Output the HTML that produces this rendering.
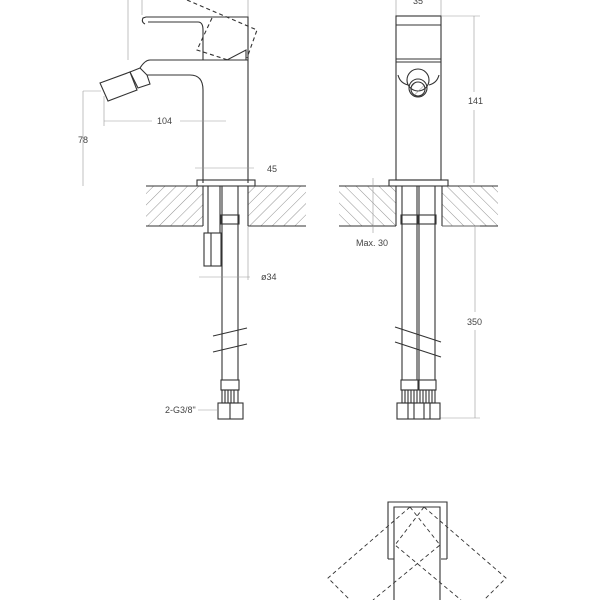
<!DOCTYPE html>
<html><head><style>body{margin:0;background:#fff}svg{display:block}text{font-family:"Liberation Sans",sans-serif;font-size:9px;fill:#444;stroke:none}</style></head><body>
<svg width="600" height="600" viewBox="0 0 600 600" xmlns="http://www.w3.org/2000/svg">
<defs>
<pattern id="h1" width="8" height="8" patternUnits="userSpaceOnUse" patternTransform="rotate(45)"><line x1="0" y1="0" x2="0" y2="8" stroke="#777" stroke-width="0.8"/></pattern>
<pattern id="h2" width="8" height="8" patternUnits="userSpaceOnUse" patternTransform="rotate(-45)"><line x1="0" y1="0" x2="0" y2="8" stroke="#777" stroke-width="0.8"/></pattern>
</defs>
<g fill="none" stroke="#333" stroke-width="1.1">
<!-- LEFT VIEW -->
<line x1="128" y1="0" x2="128" y2="60" stroke="#999" stroke-width="0.6"/>
<line x1="142" y1="0" x2="142" y2="15" stroke="#999" stroke-width="0.6"/>
<line x1="248" y1="0" x2="248" y2="17" stroke="#999" stroke-width="0.6"/>
<path d="M145,24 Q141,22 143,18 L146,17 L248,17 L248,183"/>
<path d="M148,22 L198,22 Q203,22 203,30 L203,60"/>
<path d="M140,68 Q145,60 150,60 L248,60"/>
<path d="M203,60 L227,60 L246,50 L246,60"/>
<path d="M187,0 L257,30 L247,58 M212,18 L197,50 L228,60" stroke-dasharray="4,3"/>
<path d="M147,75 L190,75 Q203,75 203,90 L203,183"/>
<path d="M130,72 L140,68 L147,75 L150,84 L138,88 Z"/>
<path d="M100,83 L130,72 L137,90 L108,101 Z"/>
<line x1="101" y1="91" x2="83" y2="91" stroke="#999" stroke-width="0.6"/>
<line x1="83" y1="91" x2="83" y2="186" stroke="#999" stroke-width="0.6"/>
<text x="78" y="143">78</text>
<line x1="104" y1="96" x2="104" y2="126" stroke="#999" stroke-width="0.6"/>
<line x1="104" y1="121" x2="152" y2="121" stroke="#999" stroke-width="0.6"/>
<line x1="180" y1="121" x2="226" y2="121" stroke="#999" stroke-width="0.6"/>
<text x="157" y="124">104</text>
<line x1="195" y1="168" x2="254" y2="168" stroke="#999" stroke-width="0.6"/>
<text x="267" y="172">45</text>
<rect x="197" y="180" width="58" height="6"/>
<rect x="146" y="186" width="57" height="40" fill="url(#h1)" stroke="none"/>
<rect x="248" y="186" width="58" height="40" fill="url(#h1)" stroke="none"/>
<line x1="146" y1="186" x2="306" y2="186"/>
<line x1="146" y1="226" x2="203" y2="226"/>
<line x1="248" y1="226" x2="306" y2="226"/>
<line x1="203" y1="186" x2="203" y2="226"/><line x1="248" y1="186" x2="248" y2="226"/>
<line x1="208" y1="186" x2="208" y2="233"/><line x1="220" y1="186" x2="220" y2="233"/>
<rect x="204" y="233" width="17" height="33"/>
<line x1="211" y1="233" x2="211" y2="266"/>
<line x1="222" y1="186" x2="222" y2="380"/><line x1="238" y1="186" x2="238" y2="380"/>
<rect x="221" y="215" width="18" height="9"/>
<line x1="199" y1="277" x2="250" y2="277" stroke="#999" stroke-width="0.6"/>
<line x1="248" y1="226" x2="248" y2="280" stroke="#999" stroke-width="0.6"/>
<text x="261" y="280">ø34</text>
<line x1="213" y1="336" x2="247" y2="328"/>
<line x1="213" y1="352" x2="247" y2="344"/>
<rect x="221" y="380" width="18" height="10"/>
<rect x="222" y="390" width="16" height="13"/>
<path d="M225,390v13M228,390v13M231,390v13M234,390v13"/>
<rect x="218" y="403" width="25" height="16"/>
<line x1="230" y1="403" x2="230" y2="419"/>
<line x1="198" y1="410" x2="218" y2="410" stroke="#999" stroke-width="0.6"/>
<text x="165" y="413">2-G3/8"</text>
<!-- RIGHT VIEW -->
<line x1="396" y1="0" x2="396" y2="16" stroke="#999" stroke-width="0.6"/>
<line x1="441" y1="0" x2="441" y2="16" stroke="#999" stroke-width="0.6"/>
<text x="413" y="4">35</text>
<rect x="396" y="16" width="45" height="164"/>
<line x1="396" y1="25" x2="441" y2="25"/>
<line x1="396" y1="59" x2="441" y2="59"/>
<line x1="396" y1="62" x2="441" y2="62"/>
<path d="M398,75 Q400,83 408,85 M439,75 Q437,83 429,85"/>
<circle cx="418" cy="80" r="11"/>
<circle cx="418" cy="88" r="9"/>
<circle cx="418" cy="89" r="7" fill="url(#h1)"/>
<line x1="441" y1="16" x2="480" y2="16" stroke="#999" stroke-width="0.6"/>
<line x1="474" y1="16" x2="474" y2="92" stroke="#999" stroke-width="0.6"/>
<line x1="474" y1="110" x2="474" y2="183" stroke="#999" stroke-width="0.6"/>
<text x="468" y="104">141</text>
<rect x="389" y="180" width="59" height="6"/>
<rect x="339" y="186" width="57" height="40" fill="url(#h2)" stroke="none"/>
<rect x="442" y="186" width="56" height="40" fill="url(#h2)" stroke="none"/>
<line x1="339" y1="186" x2="498" y2="186"/>
<line x1="339" y1="226" x2="396" y2="226"/>
<line x1="442" y1="226" x2="498" y2="226"/>
<line x1="396" y1="186" x2="396" y2="226"/><line x1="442" y1="186" x2="442" y2="226"/>
<line x1="373" y1="178" x2="373" y2="233" stroke="#999" stroke-width="0.6"/>
<text x="356" y="246">Max. 30</text>
<rect x="401" y="215" width="17" height="9"/>
<rect x="419" y="215" width="17" height="9"/>
<path d="M402,186V380M417,186V380M419,186V380M435,186V380"/>
<line x1="395" y1="327" x2="441" y2="342"/>
<line x1="395" y1="342" x2="441" y2="357"/>
<line x1="442" y1="226" x2="480" y2="226" stroke="#999" stroke-width="0.6"/>
<line x1="475" y1="226" x2="475" y2="312" stroke="#999" stroke-width="0.6"/>
<line x1="475" y1="330" x2="475" y2="418" stroke="#999" stroke-width="0.6"/>
<line x1="440" y1="418" x2="480" y2="418" stroke="#999" stroke-width="0.6"/>
<text x="467" y="325">350</text>
<rect x="401" y="380" width="17" height="10"/><rect x="419" y="380" width="17" height="10"/>
<rect x="402" y="390" width="15" height="13"/><rect x="420" y="390" width="15" height="13"/>
<path d="M405,390v13M408,390v13M411,390v13M414,390v13M423,390v13M426,390v13M429,390v13M432,390v13"/>
<rect x="397" y="403" width="43" height="16"/>
<path d="M408,403v16M414,403v16M424,403v16M430,403v16"/>
<!-- BOTTOM VIEW -->
<path d="M388,559 L388,502 L447,502 L447,559"/>
<path d="M394,600 L394,507 L440,507 L440,600"/>
<path d="M388,559h6M441,559h6"/>
<g stroke-dasharray="4,3" stroke-width="0.9">
<path d="M410,507 L328,578 L350,600"/>
<path d="M410,507 L440,545 L373,600"/>
<path d="M424,507 L506,578 L484,600"/>
<path d="M424,507 L395,545 L461,600"/>
</g>
</g>
</svg>
</body></html>
